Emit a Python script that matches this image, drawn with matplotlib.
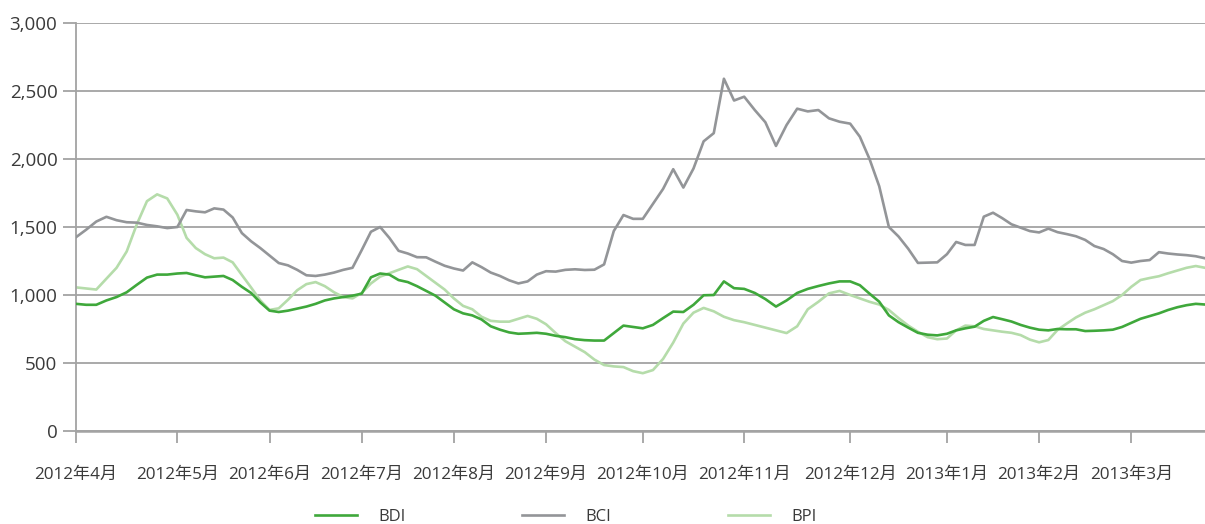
import numpy as np
import matplotlib
matplotlib.use("Agg")
import matplotlib.pyplot as plt

plt.rcParams['font.family'] = ['Open Sans', 'Noto Sans CJK JP', 'DejaVu Sans']

# -------------------------------------------------
# data: 10 samples per month, trading-day axis, 2012-04 .. late 2013-03
# -------------------------------------------------
months = ["2012年4月", "2012年5月", "2012年6月", "2012年7月", "2012年8月", "2012年9月",
          "2012年10月", "2012年11月", "2012年12月", "2013年1月", "2013年2月", "2013年3月"]
trading_days = [22, 20, 20, 20, 20, 21, 22, 23, 21, 20, 20, 20]

bdi = [
    935, 928, 928, 960, 985, 1020, 1075, 1128, 1150, 1150,      # Apr
    1158, 1162, 1145, 1130, 1135, 1140, 1110, 1060, 1015, 945,  # May
    885, 875, 885, 900, 915, 935, 960, 975, 985, 995,           # Jun
    1010, 1130, 1158, 1150, 1110, 1095, 1065, 1030, 995, 945,   # Jul
    895, 865, 850, 820, 770, 745, 725, 715, 718, 722,           # Aug
    715, 700, 690, 675, 668, 665, 665, 720, 775, 765,           # Sep
    755, 780, 830, 878, 875, 928, 998, 1000, 1100, 1050,        # Oct
    1045, 1015, 970, 915, 960, 1015, 1045, 1066, 1085, 1100,    # Nov
    1100, 1072, 1010, 951, 850, 800, 760, 722, 708, 703,        # Dec
    715, 740, 755, 767, 810, 838, 822, 805, 780, 760,           # Jan
    745, 740, 750, 748, 748, 735, 737, 740, 745, 765,           # Feb
    795, 825, 845, 865, 890, 910, 925, 935, 930,                # Mar
]

bci = [
    1425, 1480, 1540, 1575, 1550, 1535, 1532, 1515, 1505, 1492,  # Apr
    1500, 1625, 1615, 1608, 1637, 1628, 1570, 1455, 1395, 1345,  # May
    1290, 1235, 1218, 1185, 1145, 1140, 1150, 1165, 1185, 1200,  # Jun
    1330, 1465, 1500, 1420, 1325, 1305, 1278, 1277, 1245, 1215,  # Jul
    1195, 1180, 1240, 1205, 1165, 1140, 1108, 1085, 1100, 1150,  # Aug
    1175, 1172, 1185, 1189, 1184, 1186, 1225, 1470, 1588, 1560,  # Sep
    1560, 1670, 1780, 1925, 1790, 1930, 2130, 2190, 2590, 2430,  # Oct
    2458, 2360, 2270, 2096, 2250, 2370, 2350, 2360, 2299, 2274,  # Nov
    2260, 2164, 2000, 1800, 1500, 1430, 1340, 1236, 1238, 1240,  # Dec
    1300, 1390, 1368, 1368, 1576, 1605, 1565, 1520, 1495, 1470,  # Jan
    1460, 1488, 1462, 1448, 1432, 1405, 1360, 1338, 1300, 1250,  # Feb
    1238, 1250, 1257, 1315, 1305, 1298, 1293, 1285, 1270,        # Mar
]

bpi = [
    1056, 1048, 1040, 1120, 1200, 1320, 1520, 1690, 1740, 1710,  # Apr
    1590, 1420, 1345, 1300, 1270, 1275, 1240, 1147, 1055, 960,   # May
    890, 902, 965, 1035, 1080, 1095, 1065, 1020, 985, 975,       # Jun
    1015, 1085, 1135, 1160, 1185, 1210, 1190, 1140, 1090, 1040,  # Jul
    975, 920, 895, 840, 810, 804, 804, 825, 846, 825,            # Aug
    785, 720, 660, 620, 580, 525, 485, 475, 470, 440,            # Sep
    425, 448, 530, 650, 790, 870, 905, 880, 840, 815,            # Oct
    800, 780, 760, 740, 720, 770, 895, 950, 1012, 1030,          # Nov
    1000, 975, 950, 930, 890, 830, 775, 730, 690, 675,           # Dec
    680, 740, 775, 770, 750, 740, 730, 722, 705, 672,            # Jan
    652, 669, 743, 790, 835, 870, 895, 925, 955, 1000,           # Feb
    1060, 1110, 1125, 1138, 1160, 1180, 1200, 1213, 1200,        # Mar
]

# trading-day position of each sample (10 per month)
month_start = np.concatenate([[0], np.cumsum(trading_days)[:-1]])
k = np.arange(len(bdi))
x = month_start[k // 10] + (k % 10) / 10 * np.array(trading_days)[k // 10]

# -------------------------------------------------
# figure
# -------------------------------------------------
fig = plt.figure(figsize=(12.05, 5.24), dpi=100)
ax = fig.add_axes([76 / 1205, 1 - 431 / 524, 1 - 76 / 1205, 408 / 524])

ax.plot(x, bdi, color="#3fa83b", lw=1.9, label="BDI", zorder=3)
ax.plot(x, bci, color="#939598", lw=1.9, label="BCI", zorder=3)
ax.plot(x, bpi, color="#b5dcaa", lw=1.9, label="BPI", zorder=2)

ax.set_xlim(0, x[-1])
ax.set_ylim(0, 3000)
ax.set_yticks(np.arange(0, 3001, 500))
ax.set_yticklabels([f"{v:,}" for v in range(0, 3001, 500)])
ax.set_xticks(month_start)
ax.set_xticklabels(months)

ax.yaxis.grid(True, color="#a3a3a3", lw=1.3)
ax.set_axisbelow(True)
for s in ["top", "right"]:
    ax.spines[s].set_visible(False)
for s in ["left", "bottom"]:
    ax.spines[s].set_color("#a3a3a3")
ax.spines["left"].set_linewidth(1.3)
ax.spines["bottom"].set_linewidth(1.8)

ax.tick_params(axis="y", length=9.4, width=1.3, color="#a3a3a3", pad=4,
               labelsize=13.5, labelcolor="#3a3a3a")
ax.tick_params(axis="x", length=8.6, width=1.3, color="#a3a3a3", pad=17,
               labelsize=12.3, labelcolor="#3a3a3a")

fig.legend(loc="center", bbox_to_anchor=(566 / 1205, 1 - 517 / 524), ncol=3,
           frameon=False, fontsize=12, handlelength=2.5, handletextpad=1.3,
           columnspacing=7.0, labelcolor="#3a3a3a")

fig.savefig("out.png", dpi=100)
